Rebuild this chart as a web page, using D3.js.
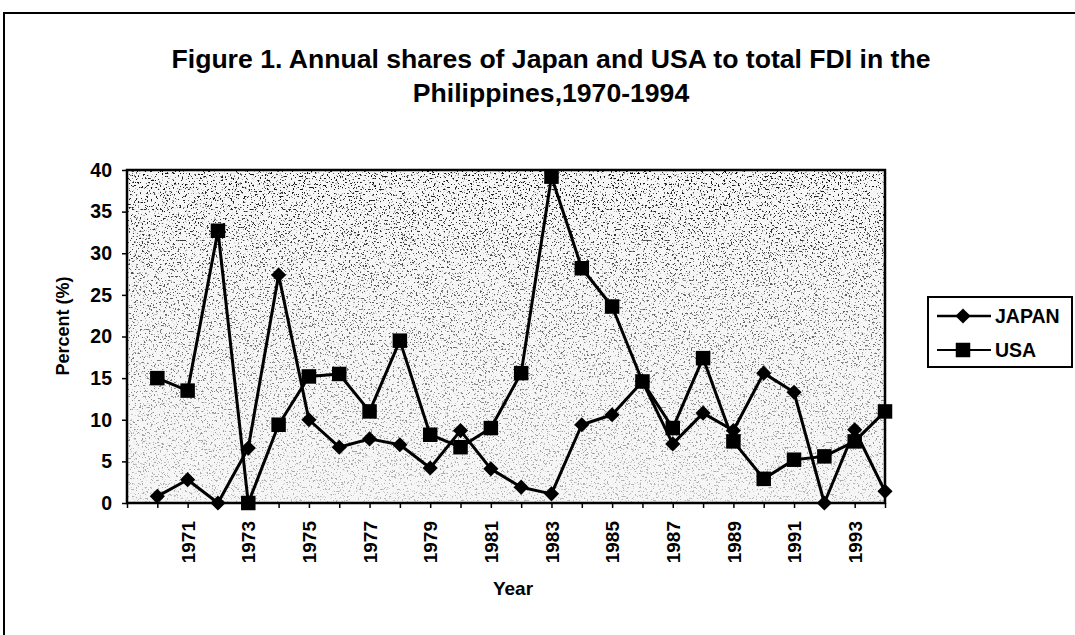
<!DOCTYPE html>
<html>
<head>
<meta charset="utf-8">
<script src="https://cdn.jsdelivr.net/npm/d3@7"></script>
<style>
  body { margin: 0; background: #fff; }
  svg text { font-family: "Liberation Sans", Arial, sans-serif; font-weight: bold; fill: #000; }
</style>
</head>
<body>
<div id="display"><svg width="1075" height="635"></svg></div>
<script>
// values (percent of total FDI)
var years = [1970, 1971, 1972, 1973, 1974, 1975, 1976, 1977, 1978, 1979, 1980, 1981, 1982,
             1983, 1984, 1985, 1986, 1987, 1988, 1989, 1990, 1991, 1992, 1993, 1994];
var japan = [0.8, 2.8, 0, 6.6, 27.4, 10.0, 6.7, 7.7, 7.0, 4.2, 8.7, 4.1, 1.9,
             1.1, 9.4, 10.6, 14.6, 7.1, 10.8, 8.7, 15.6, 13.3, 0, 8.8, 1.4];
var usa   = [15.0, 13.5, 32.7, 0, 9.4, 15.2, 15.5, 11.0, 19.5, 8.2, 6.7, 9.0, 15.6,
             39.2, 28.2, 23.6, 14.6, 9.0, 17.4, 7.4, 2.9, 5.2, 5.6, 7.4, 11.0];
var yTicks = [0, 5, 10, 15, 20, 25, 30, 35, 40];
var xLabels = [1971, 1973, 1975, 1977, 1979, 1981, 1983, 1985, 1987, 1989, 1991, 1993];

// excel style diamond: a square turned 45 degrees
var diamond = {
  draw: function(ctx, size) {
    var r = Math.sqrt(size / 2);
    ctx.moveTo(0, -r); ctx.lineTo(r, 0); ctx.lineTo(0, r); ctx.lineTo(-r, 0); ctx.closePath();
  }
};
var series = [
  { name: "JAPAN", values: japan, symbol: diamond,        size: 115 },
  { name: "USA",   values: usa,   symbol: d3.symbolSquare, size: 210 }
];

var svg = d3.select("#display svg");
var m = { left: 127, right: 885, top: 170, bottom: 503 };

// scan frame (top and left edges only show)
svg.append("path").attr("d", "M4,635V13H1075")
  .attr("fill", "none").attr("stroke", "#000").attr("stroke-width", 2);

svg.append("text").text("Figure 1. Annual shares of Japan and USA to total FDI in the")
  .attr("x", 551).attr("y", 68).attr("text-anchor", "middle").attr("font-size", "26.6px");
svg.append("text").text("Philippines,1970-1994")
  .attr("x", 551).attr("y", 102).attr("text-anchor", "middle").attr("font-size", "26.6px");

var x = d3.scaleLinear().domain([1969, 1994]).range([m.left, m.right]);
var y = d3.scaleLinear().domain([0, 40]).range([m.bottom, m.top]);

// speckled grey background of the plot area
var defs = svg.append("defs");
var grad = defs.append("linearGradient").attr("id", "shade")
  .attr("x1", 0).attr("y1", 0).attr("x2", 0).attr("y2", 1);
grad.append("stop").attr("offset", "0%").attr("stop-color", "#000").attr("stop-opacity", 0.95);
grad.append("stop").attr("offset", "35%").attr("stop-color", "#000").attr("stop-opacity", 0.65);
grad.append("stop").attr("offset", "100%").attr("stop-color", "#000").attr("stop-opacity", 0.25);
var f = defs.append("filter").attr("id", "speck")
  .attr("x", 0).attr("y", 0).attr("width", "100%").attr("height", "100%");
f.append("feTurbulence").attr("type", "fractalNoise").attr("baseFrequency", 0.55)
  .attr("numOctaves", 3).attr("seed", 7).attr("result", "noise");
f.append("feColorMatrix").attr("in", "noise").attr("type", "matrix")
  .attr("values", "0 0 0 0 0  0 0 0 0 0  0 0 0 0 0  -12 0 0 0 4.75").attr("result", "dots");
f.append("feComposite").attr("in", "dots").attr("in2", "SourceGraphic").attr("operator", "in");

svg.append("rect").attr("x", m.left).attr("y", m.top)
  .attr("width", m.right - m.left).attr("height", m.bottom - m.top)
  .attr("fill", "#f6f6f6");
svg.append("rect").attr("x", m.left).attr("y", m.top)
  .attr("width", m.right - m.left).attr("height", m.bottom - m.top)
  .attr("fill", "url(#shade)").attr("filter", "url(#speck)");

// axes
var yAxis = svg.append("g").attr("transform", "translate(" + m.left + ",0)")
  .call(d3.axisLeft(y).tickValues(yTicks).tickSize(5).tickPadding(10));
yAxis.selectAll("text").attr("font-size", "19.5px").style("font-family", null);

var xTickYears = [1969].concat(years);
var xAxis = svg.append("g").attr("transform", "translate(0," + m.bottom + ")")
  .call(d3.axisBottom(x).tickValues(xTickYears).tickSize(5)
    .tickFormat(function(d) { return xLabels.indexOf(d) >= 0 ? d : ""; }));
xAxis.selectAll("text").attr("font-size", "19px")
  .attr("transform", "rotate(-90)").attr("text-anchor", "end")
  .attr("x", -18).attr("y", 0).attr("dy", "0.35em");

svg.selectAll(".domain").remove();
svg.selectAll(".tick line").attr("stroke", "#000").attr("stroke-width", 1.5);

svg.append("rect").attr("x", m.left).attr("y", m.top)
  .attr("width", m.right - m.left).attr("height", m.bottom - m.top)
  .attr("fill", "none").attr("stroke", "#000").attr("stroke-width", 2.5);

svg.append("text").text("Percent (%)").attr("font-size", "18px")
  .attr("text-anchor", "middle")
  .attr("transform", "translate(69,326) rotate(-90)");
svg.append("text").text("Year").attr("font-size", "19px")
  .attr("text-anchor", "middle").attr("x", 513).attr("y", 595);

// lines and markers
var line = d3.line()
  .x(function(d, i) { return x(years[i]); })
  .y(function(d) { return y(d); });

series.forEach(function(s) {
  svg.append("path").datum(s.values).attr("d", line)
    .attr("fill", "none").attr("stroke", "#000").attr("stroke-width", 3)
    .attr("stroke-linejoin", "round");
  svg.selectAll(".pt-" + s.name).data(s.values).enter().append("path")
    .attr("class", "pt-" + s.name)
    .attr("d", d3.symbol().type(s.symbol).size(s.size))
    .attr("transform", function(d, i) { return "translate(" + x(years[i]) + "," + y(d) + ")"; })
    .attr("fill", "#000");
});

// legend
var lg = svg.append("g").attr("transform", "translate(928,297)");
lg.append("rect").attr("width", 144).attr("height", 70)
  .attr("fill", "#fff").attr("stroke", "#000").attr("stroke-width", 2);
series.forEach(function(s, i) {
  var row = lg.append("g").attr("transform", "translate(0," + (19 + i * 34) + ")");
  row.append("line").attr("x1", 9).attr("x2", 63)
    .attr("stroke", "#000").attr("stroke-width", i === 0 ? 2.5 : 2);
  row.append("path").attr("d", d3.symbol().type(s.symbol).size(s.size))
    .attr("transform", "translate(35,0)").attr("fill", "#000");
  row.append("text").text(s.name).attr("x", 67).attr("y", 7).attr("font-size", "19.5px");
});
</script>
</body>
</html>
